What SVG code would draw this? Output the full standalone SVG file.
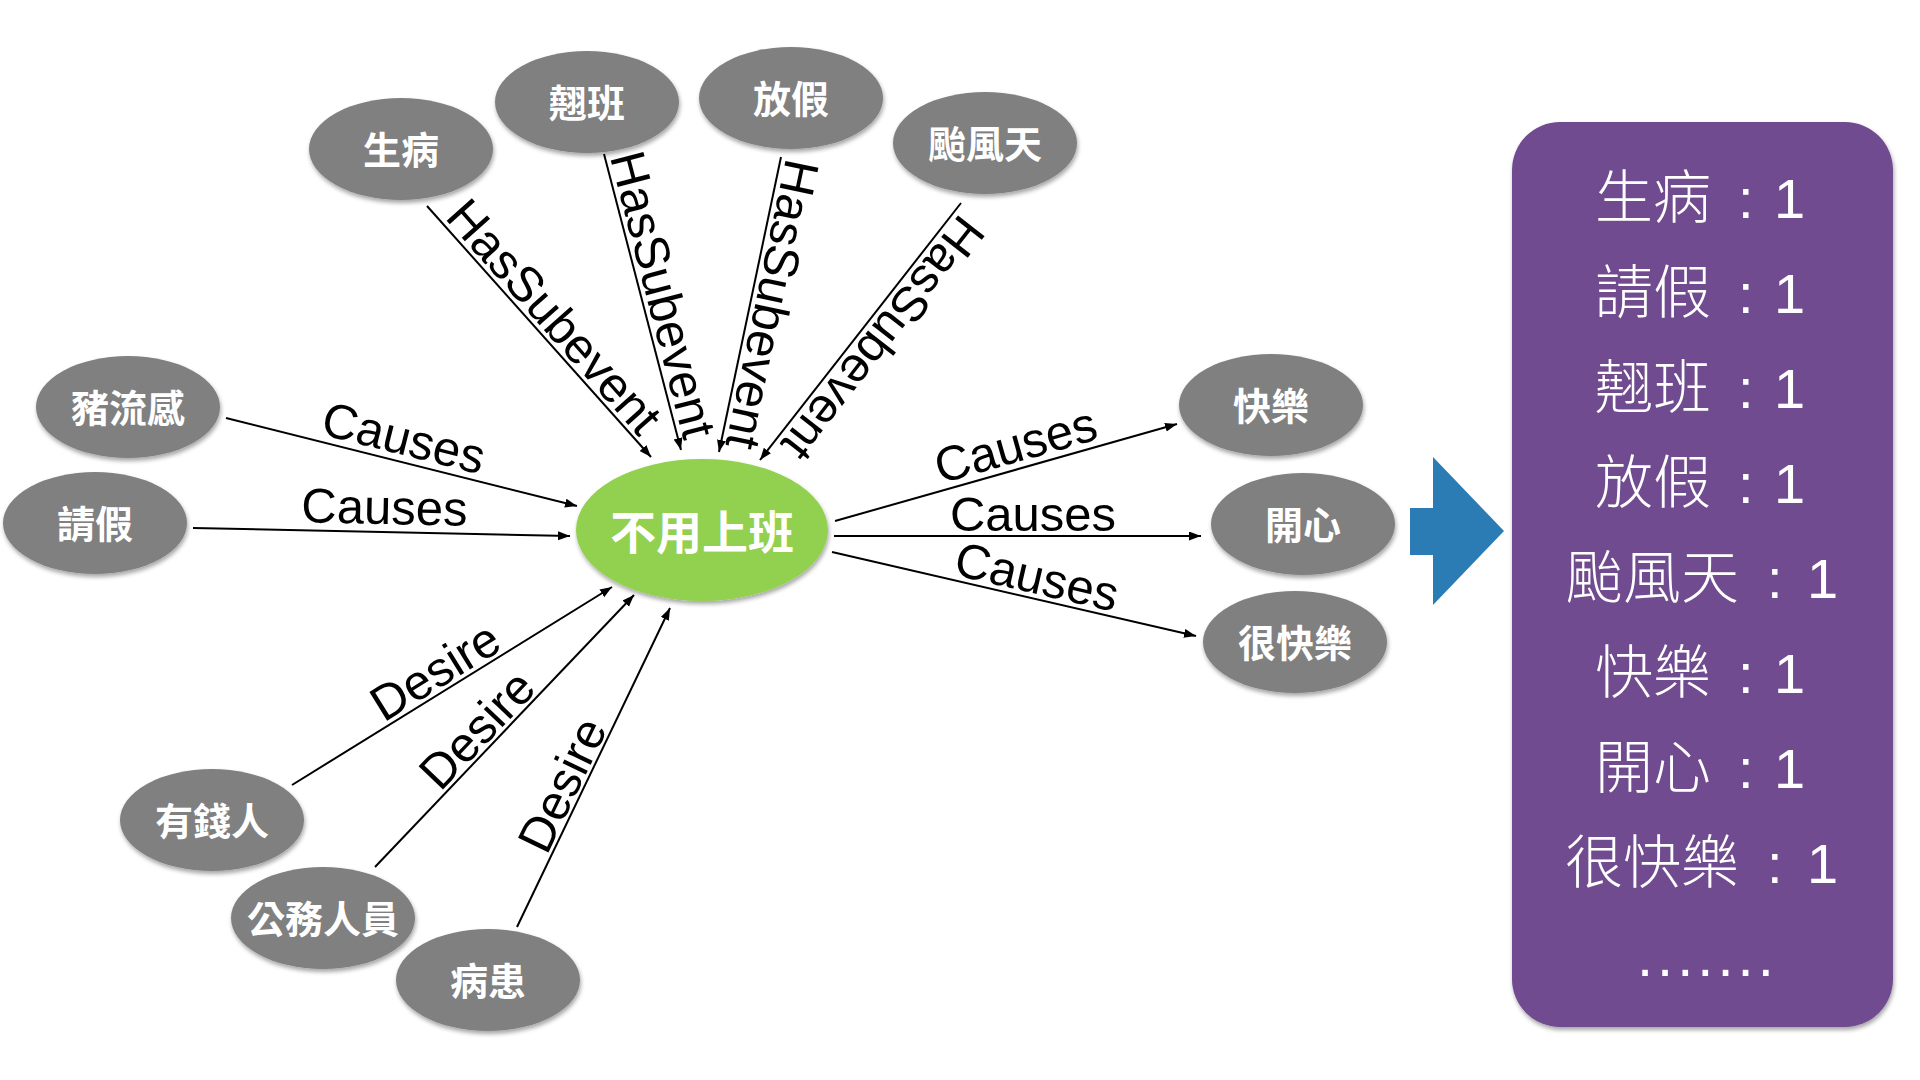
<svg xmlns="http://www.w3.org/2000/svg" width="1920" height="1080" viewBox="0 0 1920 1080">
<style>
.node ellipse{fill:#808080;filter:url(#sh)}
.node text{fill:#fff;font-family:"Noto Sans CJK TC","Noto Sans CJK SC",sans-serif;font-weight:700;font-size:38px;text-anchor:middle}
#n_center ellipse{fill:#92D050}
#n_center text{font-size:46px}
.edges line{stroke:#000;stroke-width:2;marker-end:url(#ah)}
.lbl{font-family:"Liberation Sans",Arial,sans-serif;font-size:49px;fill:#000;text-anchor:middle}
.row{fill:#fff;font-family:"Liberation Sans","Noto Sans CJK TC",sans-serif;font-weight:300;font-size:58px}
.row tspan{font-size:56px}
</style>
<defs>
<filter id="sh" x="-20%" y="-20%" width="140%" height="150%">
<feDropShadow dx="1" dy="3" stdDeviation="2" flood-color="#000" flood-opacity="0.35"/>
</filter>
<marker id="ah" markerUnits="userSpaceOnUse" markerWidth="13" markerHeight="10" refX="12" refY="4.5" orient="auto">
<path d="M0,0 L12,4.5 L0,9 z" fill="#000"/>
</marker>
</defs>
<rect width="1920" height="1080" fill="#fff"/>

<g class="edges" id="connectors">
<line x1="427" y1="206" x2="651" y2="457"/>
<line x1="604" y1="154" x2="681" y2="450"/>
<line x1="781" y1="157" x2="719" y2="452"/>
<line x1="961" y1="203" x2="760" y2="460"/>
<line x1="226" y1="418" x2="577" y2="506"/>
<line x1="193" y1="528" x2="570" y2="536"/>
<line x1="835" y1="521" x2="1177" y2="424"/>
<line x1="834" y1="536" x2="1201" y2="536"/>
<line x1="832" y1="552" x2="1196" y2="636"/>
<line x1="292" y1="785" x2="612" y2="587"/>
<line x1="375" y1="867" x2="634" y2="595"/>
<line x1="517" y1="927" x2="670" y2="608"/>
<g id="edge-labels">
<text class="lbl" transform="translate(538,331) rotate(48.4)" y="-5">HasSubevent</text>
<text class="lbl" transform="translate(642,300) rotate(75.4)" y="-5">HasSubevent</text>
<text class="lbl" transform="translate(751,300) rotate(101.9)" y="-5">HasSubevent</text>
<text class="lbl" transform="translate(866,325) rotate(128)" y="-5">HasSubevent</text>
<text class="lbl" transform="translate(398,461) rotate(14.1)" y="-7">Causes</text>
<text class="lbl" transform="translate(384,532) rotate(1.2)" y="-8">Causes</text>
<text class="lbl" transform="translate(1022,468) rotate(-15.8)" y="-7">Causes</text>
<text class="lbl" transform="translate(1033,536)" y="-5">Causes</text>
<text class="lbl" transform="translate(1032,598) rotate(13)" y="-5">Causes</text>
<text class="lbl" transform="translate(446,689) rotate(-31.75)" y="-4">Desire</text>
<text class="lbl" transform="translate(492,744) rotate(-46.4)" y="-4">Desire</text>
<text class="lbl" transform="translate(581,794) rotate(-64.4)" y="-4">Desire</text>
</g>
</g>

<g id="n_center" class="node"><ellipse cx="702" cy="530" rx="126" ry="71"/><text x="702" y="549">不用上班</text></g>
<g id="n_shengbing" class="node"><ellipse cx="401" cy="149" rx="92" ry="51"/><text x="401" y="164">生病</text></g>
<g id="n_qiaoban" class="node"><ellipse cx="587" cy="102" rx="92" ry="51"/><text x="587" y="117">翹班</text></g>
<g id="n_fangjia" class="node"><ellipse cx="791" cy="98" rx="92" ry="51"/><text x="791" y="113">放假</text></g>
<g id="n_taifengtian" class="node"><ellipse cx="985" cy="143" rx="92" ry="51"/><text x="985" y="158">颱風天</text></g>
<g id="n_zhuliugan" class="node"><ellipse cx="128" cy="407" rx="92" ry="51"/><text x="128" y="422">豬流感</text></g>
<g id="n_qingjia" class="node"><ellipse cx="95" cy="523" rx="92" ry="51"/><text x="95" y="538">請假</text></g>
<g id="n_kuaile" class="node"><ellipse cx="1271" cy="405" rx="92" ry="51"/><text x="1271" y="420">快樂</text></g>
<g id="n_kaixin" class="node"><ellipse cx="1303" cy="524" rx="92" ry="51"/><text x="1303" y="539">開心</text></g>
<g id="n_henkuaile" class="node"><ellipse cx="1295" cy="642" rx="92" ry="51"/><text x="1295" y="657">很快樂</text></g>
<g id="n_youqianren" class="node"><ellipse cx="212" cy="820" rx="92" ry="51"/><text x="212" y="835">有錢人</text></g>
<g id="n_gongwurenyuan" class="node"><ellipse cx="323" cy="918" rx="92" ry="51"/><text x="323" y="933">公務人員</text></g>
<g id="n_binghuan" class="node"><ellipse cx="488" cy="980" rx="92" ry="51"/><text x="488" y="995">病患</text></g>

<g id="arrow"><polygon points="1410,508 1433,508 1433,457 1504,531 1433,605 1433,555 1410,555" fill="#2B7BB4"/></g>

<g id="summary">
<rect x="1512" y="122" width="381" height="905" rx="48" ry="48" fill="#6F4B8F" filter="url(#sh)"/>
<text class="row" x="1595" y="218">生病 <tspan x="1738">:</tspan> <tspan x="1774">1</tspan></text>
<text class="row" x="1595" y="313">請假 <tspan x="1738">:</tspan> <tspan x="1774">1</tspan></text>
<text class="row" x="1595" y="408">翹班 <tspan x="1738">:</tspan> <tspan x="1774">1</tspan></text>
<text class="row" x="1595" y="503">放假 <tspan x="1738">:</tspan> <tspan x="1774">1</tspan></text>
<text class="row" x="1565" y="598">颱風天 <tspan x="1767">:</tspan> <tspan x="1807">1</tspan></text>
<text class="row" x="1595" y="693">快樂 <tspan x="1738">:</tspan> <tspan x="1774">1</tspan></text>
<text class="row" x="1595" y="788">開心 <tspan x="1738">:</tspan> <tspan x="1774">1</tspan></text>
<text class="row" x="1565" y="883">很快樂 <tspan x="1767">:</tspan> <tspan x="1807">1</tspan></text>
<text class="row" x="1637" y="976" font-size="56" letter-spacing="4">.......</text>
</g>
</svg>
